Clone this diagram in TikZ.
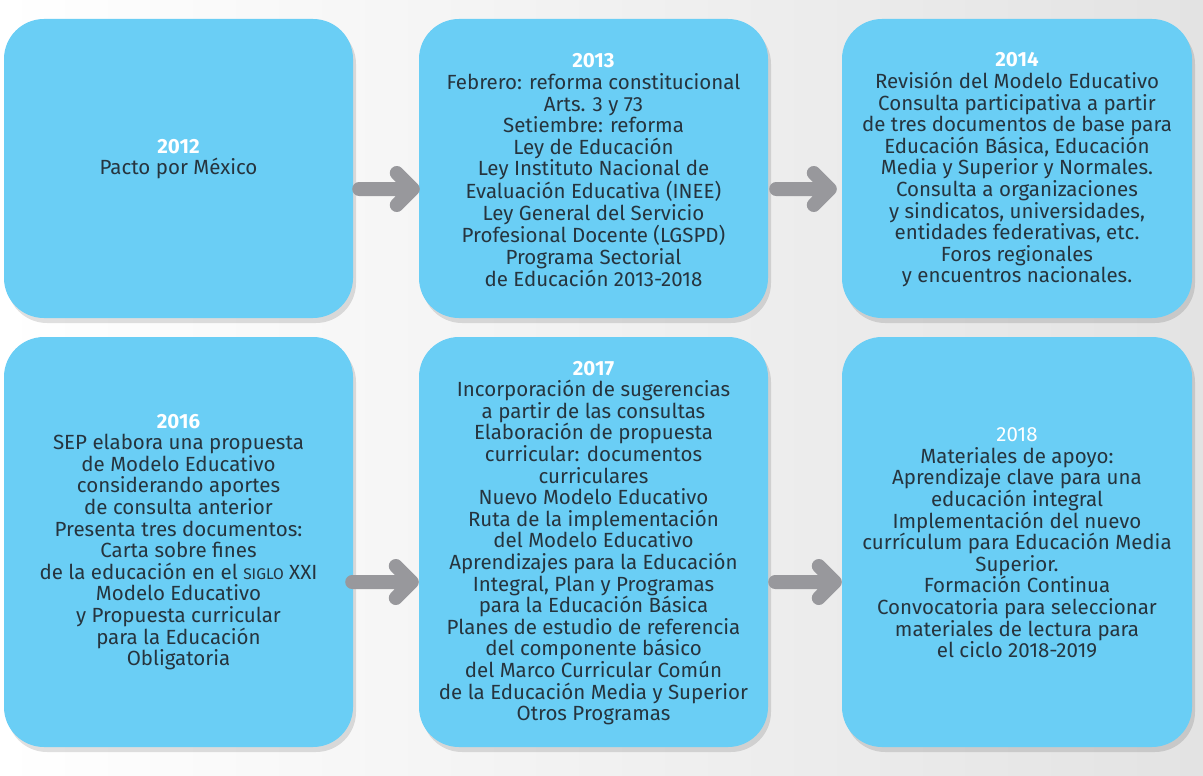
\documentclass[tikz,border=0pt]{standalone}
\usepackage{fontspec}
\setmainfont{Fira Sans}
\usetikzlibrary{calc,shadows}
\definecolor{boxblue}{RGB}{106,206,245}
\definecolor{txt}{RGB}{38,52,62}
\definecolor{arrgray}{RGB}{152,152,156}
\tikzset{
  yearbox/.style={draw=none, fill=boxblue, rounded corners=40pt, minimum width=349pt, inner sep=0pt,
    drop shadow={shadow xshift=3pt, shadow yshift=-5pt, opacity=0.12, fill=black}},
  boxtext/.style={inner sep=0pt, align=center, text=txt, font=\fontsize{20.5}{21.6}\selectfont},
  arrowline/.style={draw=arrgray, line width=14pt, line cap=round, line join=round},
}
\newcommand\yr[1]{\textcolor{white}{\textbf{#1}}}
\newcommand\garrow[2]{\draw[arrowline] (#1) -- (#2) -- ++(-16,-16) (#2) -- ++(-16,16);}
\begin{document}
\begin{tikzpicture}[x=1pt,y=-1pt]
\useasboundingbox (0,0) rectangle (1203,776);
\fill[left color=white, right color=gray!22] (0,0) rectangle (1203,776);
% boxes
\node[yearbox, minimum height=299pt] (b1) at (178.5,168.5) {};
\node[yearbox, minimum height=299pt] (b2) at (593.5,168.5) {};
\node[yearbox, minimum height=299pt, minimum width=350pt] (b3) at (1017,168.5) {};
\node[yearbox, minimum height=410pt] (b4) at (178.5,542) {};
\node[yearbox, minimum height=410pt] (b5) at (593.5,542) {};
\node[yearbox, minimum height=410pt, minimum width=350pt] (b6) at (1017,542) {};
% texts
\node[boxtext] (t1) at (178.5,159) {\yr{2012}\\Pacto por México};
\node[boxtext] (t2) at (593.5,170) {\yr{2013}\\Febrero: reforma constitucional\\Arts. 3 y 73\\Setiembre: reforma\\Ley de Educación\\Ley Instituto Nacional de\\Evaluación Educativa (INEE)\\Ley General del Servicio\\Profesional Docente (LGSPD)\\Programa Sectorial\\de Educación 2013-2018};
\node[boxtext] (t3) at (1017,170) {\yr{2014}\\Revisión del Modelo Educativo\\Consulta participativa a partir\\de tres documentos de base para\\Educación Básica, Educación\\Media y Superior y Normales.\\Consulta a organizaciones\\y sindicatos, universidades,\\entidades federativas, etc.\\Foros regionales\\y encuentros nacionales.};
\node[boxtext] (t4) at (178.5,542) {\yr{2016}\\SEP elabora una propuesta\\de Modelo Educativo\\considerando aportes\\de consulta anterior\\Presenta tres documentos:\\Carta sobre fines\\de la educación en el {\fontsize{15.5}{21.6}\selectfont SIGLO} XXI\\Modelo Educativo\\y Propuesta curricular\\para la Educación\\Obligatoria};
\node[boxtext] (t5) at (593.5,543) {\yr{2017}\\Incorporación de sugerencias\\a partir de las consultas\\Elaboración de propuesta\\curricular: documentos\\curriculares\\Nuevo Modelo Educativo\\Ruta de la implementación\\del Modelo Educativo\\Aprendizajes para la Educación\\Integral, Plan y Programas\\para la Educación Básica\\Planes de estudio de referencia\\del componente básico\\del Marco Curricular Común\\de la Educación Media y Superior\\Otros Programas};
\node[boxtext] (t6) at (1017,543) {\textcolor{white}{2018}\\Materiales de apoyo:\\Aprendizaje clave para una\\educación integral\\Implementación del nuevo\\currículum para Educación Media\\Superior.\\Formación Continua\\Convocatoria para seleccionar\\materiales de lectura para\\el ciclo 2018-2019};
% arrows
\garrow{$(b1.east)+(6,20.5)$}{$(b2.west)+(-6,20.5)$}
\garrow{$(b2.east)+(8,20.5)$}{$(b3.west)+(-12,20.5)$}
\garrow{$(b4.east)+(-1,40)$}{$(b5.west)+(-7,40)$}
\garrow{$(b5.east)+(7,40)$}{$(b6.west)+(-7,40)$}
\end{tikzpicture}
\end{document}
